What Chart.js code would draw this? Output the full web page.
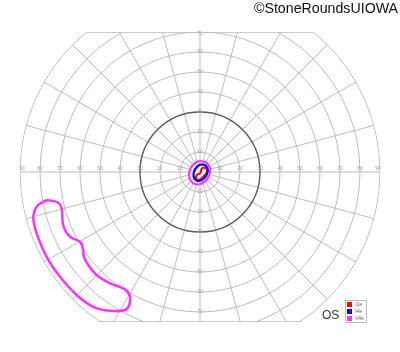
<!DOCTYPE html>
<html>
<head>
    <title>Goldmann Visual Field OS</title>
    <script src="https://cdn.jsdelivr.net/npm/chart.js"></script>
    <style>
        body { margin: 0; background: #fff; font-family: "Liberation Sans", Arial, sans-serif; }
        .wrap { position: relative; width: 400px; height: 352px; }
        .copy { position: absolute; right: 2px; top: 0px; font-size: 14.2px; color: #111; }
        .eye { position: absolute; left: 322px; top: 308px; font-size: 12px; color: #333; }
        .legend { position: absolute; left: 345px; top: 300px; width: 20px; height: 21px; border: 1px solid #bbb; background: #fff; }
        .legend div { height: 7px; font-size: 5px; line-height: 7px; color: #666; white-space: nowrap; }
        .legend span { display: inline-block; width: 5px; height: 5px; margin: 1px 3px 0 1px; vertical-align: top; }
    </style>
</head>
<body>
<div class="wrap">
    <canvas id="field" width="400" height="352"></canvas>
    <div class="copy">©StoneRoundsUIOWA</div>
    <div class="eye">OS</div>
    <div class="legend" id="legend"></div>
</div>
<script>
    // grid: rings (degrees of eccentricity) and meridian step
    const rings = [10, 20, 30, 40, 50, 60, 70, 80, 90];
    const boldRing = 30;
    const meridianStep = 15;
    const horizLabels = [10, 20, 30, 40, 50, 60, 70, 80, 90];
    const vertLabels = [10, 20, 30, 40, 50, 60, 70];
    const fieldTop = 70;
    const fieldBottom = -75;

    // isopters, [x deg, y deg] (temporal left for OS)
    const isoNames = ['I2e', 'I4e', 'V4e'];
    const isoColors = ['#ff0000', '#0000ff', '#ff33ff'];
    const i2e = [[1.5,2.25],[3.25,1.75],[3.75,0.5],[2.75,-1.25],[1,-3],[-0.5,-4],[-1.75,-3.75],[-2,-2.5],[-1.25,-1.25],[0,-0.75],[0.5,0.5],[0.75,1.5]];
    const i4e = [[2.55,3.6],[-0.07,3.58],[-2.47,1.3],[-3.25,-1.92],[-1.95,-4.2],[0.67,-4.18],[3.07,-1.9],[3.85,1.32]];
    const v4eCentral = [[2.9,5.07],[-1.07,5.26],[-4.53,2.2],[-5.45,-2.32],[-3.3,-5.67],[0.67,-5.86],[4.13,-2.8],[5.05,1.72]];
    const v4eIsland = [[-75.9,-14],[-70.9,-15.4],[-69.2,-18.2],[-68.7,-24.9],[-67.5,-29],[-65,-32.4],[-60,-34.9],
        [-58.7,-37.4],[-58,-42.4],[-55.9,-46.5],[-51.7,-51.5],[-45,-55.7],[-37.5,-58.7],[-35,-62.4],[-35.4,-66.5],
        [-37.5,-69],[-45,-69.4],[-53.4,-67.4],[-61.7,-61.5],[-70,-52.4],[-76.7,-42.4],[-81.7,-30.7],
        [-83.4,-22.4],[-81.7,-17.4],[-78.4,-14.9]];

    function closed(pts) {
        const out = pts.map(p => ({ x: p[0], y: p[1] }));
        out.push({ x: pts[0][0], y: pts[0][1] });
        return out;
    }

    function iso(pts, color, w) {
        return { data: closed(pts), borderColor: color, borderWidth: w, showLine: true,
                 pointRadius: 0, tension: 0.4, fill: false };
    }

    const polarGrid = {
        id: 'polarGrid',
        beforeDatasetsDraw(chart) {
            const ctx = chart.ctx, xs = chart.scales.x, ys = chart.scales.y, area = chart.chartArea;
            const cx = xs.getPixelForValue(0), cy = ys.getPixelForValue(0);
            const k = xs.getPixelForValue(1) - cx;
            const rMax = rings[rings.length - 1];
            ctx.save();
            ctx.beginPath();
            ctx.rect(area.left, area.top, area.right - area.left, area.bottom - area.top);
            ctx.clip();
            ctx.beginPath();
            ctx.arc(cx, cy, rMax * k + 0.5, 0, Math.PI * 2);
            ctx.clip();

            ctx.lineWidth = 1;
            ctx.strokeStyle = '#bdbdbd';
            for (let a = 0; a < 360; a += meridianStep) {
                const t = a * Math.PI / 180;
                ctx.beginPath();
                ctx.moveTo(cx + Math.cos(t) * 3 * k, cy - Math.sin(t) * 3 * k);
                ctx.lineTo(cx + Math.cos(t) * rMax * k, cy - Math.sin(t) * rMax * k);
                ctx.stroke();
            }
            rings.forEach(r => {
                ctx.beginPath();
                ctx.strokeStyle = r === boldRing ? '#5a5a5a' : '#bdbdbd';
                ctx.lineWidth = r === boldRing ? 1.4 : 1;
                ctx.arc(cx, cy, r * k, 0, Math.PI * 2);
                ctx.stroke();
            });
            // flat top and bottom edges of the field form
            ctx.strokeStyle = '#bdbdbd';
            ctx.lineWidth = 1.5;
            [fieldTop, fieldBottom].forEach(v => {
                const py = ys.getPixelForValue(v);
                ctx.beginPath();
                ctx.moveTo(area.left, py);
                ctx.lineTo(area.right, py);
                ctx.stroke();
            });
            ctx.restore();

            ctx.save();
            ctx.fillStyle = '#a0a0a0';
            ctx.font = '5px "Liberation Sans", Arial, sans-serif';
            ctx.textAlign = 'center';
            ctx.textBaseline = 'bottom';
            horizLabels.forEach(v => {
                const lx = Math.min(v, 89);
                ctx.fillText(String(v), xs.getPixelForValue(-lx), cy - 0.5);
                ctx.fillText(String(v), xs.getPixelForValue(lx), cy - 0.5);
            });
            ctx.textBaseline = 'middle';
            vertLabels.forEach(v => {
                const ly = Math.min(v, 69);
                ctx.fillText(String(v), cx, ys.getPixelForValue(ly));
                ctx.fillText(String(v), cx, ys.getPixelForValue(-v));
            });
            ctx.restore();
        }
    };

    new Chart(document.getElementById('field'), {
        type: 'scatter',
        data: {
            datasets: [
                Object.assign(iso(v4eIsland, isoColors[2], 2.5), { label: 'V4e' }),
                iso(v4eCentral, isoColors[2], 2),
                Object.assign(iso(i4e, isoColors[1], 2.2), { label: 'I4e' }),
                Object.assign(iso(i2e, isoColors[0], 2.2), { label: 'I2e' })
            ]
        },
        options: {
            responsive: false,
            animation: false,
            layout: { padding: { left: 20, right: 20, top: 32, bottom: 30 } },
            scales: {
                x: { type: 'linear', min: -90, max: 90, display: false },
                y: { type: 'linear', min: fieldBottom, max: fieldTop, display: false }
            },
            plugins: { legend: { display: false }, tooltip: { enabled: false } }
        },
        plugins: [polarGrid]
    });

    document.getElementById('legend').innerHTML = isoNames.map((n, i) =>
        `<div><span style="background:${isoColors[i]}"></span>${n}</div>`).join('');
</script>
</body>
</html>
